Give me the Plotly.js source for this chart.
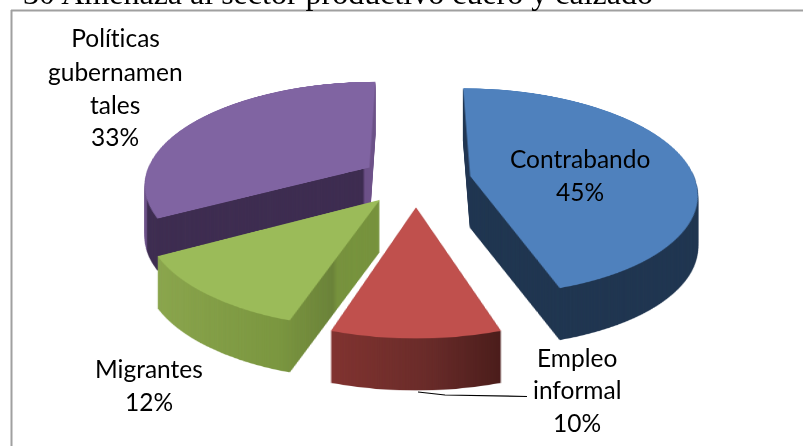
<!DOCTYPE html>
<html><head><meta charset="utf-8">
<script src="https://cdn.plot.ly/plotly-3.0.1.min.js"></script>
<style>
html,body{margin:0;padding:0;background:#fff;overflow:hidden}
#stage{position:relative;width:803px;height:446px;overflow:hidden;background:#fff}
.layer{position:absolute;left:16px;top:-220px;width:800px;height:800px;transform-origin:50% 50%}
#over{position:absolute;left:0;top:0;width:803px;height:446px}
#over text{font-variant-ligatures:none;font-feature-settings:"liga" 0}
</style></head><body>
<div id="stage"><div id="wall" class="layer"></div><div id="pie" class="layer"></div><div id="over"></div></div>
<script>
const categories = ["Contrabando","Empleo informal","Migrantes","Políticas gubernamentales"];
const shareValues = [45,10,12,33];
const pullAmounts = [0.245,0.258,0.245,0.245];
const faceColors = ["#4f81bd","#c0504d","#9bbb59","#8064a2"];
const wallColors = ["#1f3550","#672b29","#76923c","#3d2c50"];
const titleText = "30 Amenaza al sector productivo cuero y calzado";

const domainHalf = 0.354;
const persp = "perspective(1340px) rotateX(63deg)";
const depth = 52, step = 1;
function pieTrace(colors){
  return {type:"pie",labels:categories,values:shareValues,pull:pullAmounts,sort:false,direction:"clockwise",rotation:0,
    textinfo:"none",hoverinfo:"skip",showlegend:false,
    marker:{colors:colors,line:{width:0}},
    domain:{x:[0.5-domainHalf,0.5+domainHalf],y:[0.5-domainHalf,0.5+domainHalf]}};
}
const cfg={staticPlot:true,displayModeBar:false};
const pieLayout={width:800,height:800,margin:{l:0,r:0,t:0,b:0},paper_bgcolor:"rgba(0,0,0,0)",showlegend:false};
document.getElementById("pie").style.transform=persp;
Plotly.newPlot("pie",[pieTrace(faceColors)],pieLayout,cfg);
const wall=document.getElementById("wall");
Plotly.newPlot(wall,[pieTrace(wallColors)],pieLayout,cfg).then(gd=>{
  const svg=gd.querySelector(".main-svg");
  const ns="http://www.w3.org/2000/svg";
  const defs=document.createElementNS(ns,"defs");
  function grad(id,stops){
    const g=document.createElementNS(ns,"linearGradient");g.setAttribute("id",id);
    stops.forEach(s=>{const e=document.createElementNS(ns,"stop");e.setAttribute("offset",s[0]);e.setAttribute("stop-color",s[1]);g.appendChild(e);});
    defs.appendChild(g);
  }
  grad("gRed",[[0,"#80322f"],[0.55,"#6a2b29"],[1,"#4a1c1a"]]);
  grad("gGreen",[[0,"#8aa54c"],[0.6,"#7a963f"],[0.8,"#6a8238"],[0.82,"#76923c"],[1,"#76923c"]]);
  grad("gPurple",[[0,"#6b5088"],[0.045,"#6b5088"],[0.055,"#3d2c50"],[0.97,"#3d2c50"],[0.98,"#6b5088"],[1,"#6b5088"]]);
  svg.insertBefore(defs,svg.firstChild);
  const map={"rgb(103, 43, 41)":"url(#gRed)","rgb(118, 146, 60)":"url(#gGreen)","rgb(61, 44, 80)":"url(#gPurple)"};
  gd.querySelectorAll(".slice path.surface").forEach(p=>{const f=map[p.style.fill];if(f)p.style.fill=f;});
  const stage=document.getElementById("stage"), top=document.getElementById("pie");
  wall.style.transform="translateY("+depth+"px) "+persp;
  for(let d=depth-step;d>0;d-=step){
    const c=wall.cloneNode(true);c.removeAttribute("id");
    c.style.transform="translateY("+d+"px) "+persp;
    stage.insertBefore(c,top);
  }
});

const font={family:"Lato, 'Open Sans', sans-serif",size:24.5,color:"#000"};
const lines=[
 ["Políticas",115,37],["gubernamen",115,71],["tales",115,104],["33%",115,136],
 [categories[0],580,158],["45%",580,191],
 ["Migrantes",149,368],["12%",149,401],
 ["Empleo",577,357],["informal",577,389],["10%",577,422]];
const ann=lines.map(l=>({x:l[1],y:l[2],xref:"x",yref:"y",text:l[0],showarrow:false,font:font,xanchor:"center",yanchor:"middle"}));
ann.push({x:22,y:12,xref:"x",yref:"y",text:titleText,showarrow:false,xanchor:"left",yanchor:"bottom",
  font:{family:"'Liberation Serif',serif",size:32,color:"#000"},borderpad:0});
const ax={range:[0,803],visible:false,fixedrange:true};
Plotly.newPlot("over",[],{width:803,height:446,margin:{l:0,r:0,t:0,b:0},paper_bgcolor:"rgba(0,0,0,0)",plot_bgcolor:"rgba(0,0,0,0)",
  xaxis:ax,yaxis:{range:[446,0],visible:false,fixedrange:true},annotations:ann,
  shapes:[
   {type:"line",xref:"x",yref:"y",x0:11,y0:10.5,x1:803,y1:10.5,line:{color:"#a0a0a0",width:2}},
   {type:"line",xref:"x",yref:"y",x0:11.5,y0:10,x1:11.5,y1:446,line:{color:"#a0a0a0",width:2}},
   {type:"path",xref:"x",yref:"y",path:"M418,392 L445,395 L527,396.5",line:{color:"#000",width:1.2}}
  ]},cfg);
</script></body></html>
